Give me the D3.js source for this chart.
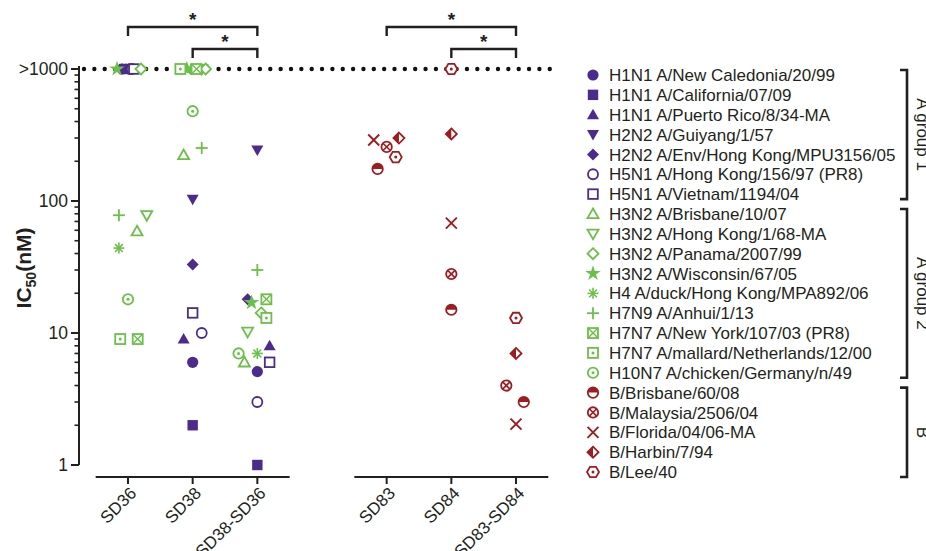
<!DOCTYPE html>
<html>
<head>
<meta charset="utf-8">
<script src="https://cdn.jsdelivr.net/npm/d3@7"></script>
<style>
  body { margin: 0; background: #fff; }
  svg { display: block; font-family: "Liberation Sans", Arial, Helvetica, sans-serif; }
</style>
</head>
<body>
<div id="chart"></div>
<script>
// ---------------- data ----------------
const categories = ["SD36", "SD38", "SD38-SD36", "gap", "SD83", "SD84", "SD83-SD84"];

const strainNames = [
  "H1N1 A/New Caledonia/20/99", "H1N1 A/California/07/09", "H1N1 A/Puerto Rico/8/34-MA",
  "H2N2 A/Guiyang/1/57", "H2N2 A/Env/Hong Kong/MPU3156/05", "H5N1 A/Hong Kong/156/97 (PR8)",
  "H5N1 A/Vietnam/1194/04", "H3N2 A/Brisbane/10/07", "H3N2 A/Hong Kong/1/68-MA",
  "H3N2 A/Panama/2007/99", "H3N2 A/Wisconsin/67/05", "H4 A/duck/Hong Kong/MPA892/06",
  "H7N9 A/Anhui/1/13", "H7N7 A/New York/107/03 (PR8)", "H7N7 A/mallard/Netherlands/12/00",
  "H10N7 A/chicken/Germany/n/49", "B/Brisbane/60/08", "B/Malaysia/2506/04",
  "B/Florida/04/06-MA", "B/Harbin/7/94", "B/Lee/40"
];
const strainGroups = [1, 1, 1, 1, 1, 1, 1, 2, 2, 2, 2, 2, 2, 2, 2, 2, 3, 3, 3, 3, 3];
const strainShapes = [
  "circle", "square", "triUp", "triDown", "diamond", "circleOpen", "squareOpen",
  "triUpOpen", "triDownOpen", "diamondOpen", "star", "asterisk", "plus", "squareX",
  "squareDot", "circleDot", "halfCircle", "circleX", "cross", "halfDiamond", "hexDot"
];
const groupLabels = ["A group 1", "A group 2", "B"];

// IC50 (nM), 1000 means >1000; group A strains (16)
const sd36 = [1000, 1000, 1000, 1000, 1000, 1000, 1000, 59, 78, 1000, 1000, 44, 78, 9, 9, 18];
const sd38 = [6, 2, 9, 103, 33, 10, 14.2, 223, 1000, 1000, 1000, 1000, 252, 1000, 1000, 479];
const sd3836 = [5.1, 1.0, 8, 243, 18, 3.0, 6, 6, 10.2, 14.2, 17, 7, 30, 18, 13, 7];
// group B strains (5)
const sd83 = [175, 257, 290, 300, 215];
const sd84 = [15, 28, 68, 322, 1000];
const sd8384 = [3.0, 4.0, 2.04, 7, 13];

// horizontal scatter offsets, in fractions of a category step
const sd36Jit = [-0.09, -0.06, -0.03, 0.0, 0.03, 0.06, 0.09, 0.14, 0.29, 0.2, -0.17, -0.14, -0.14, 0.15, -0.12, 0.0];
const sd38Jit = [0, 0, -0.14, 0, 0, 0.14, 0, -0.14, 0.14, 0.2, -0.09, -0.03, 0.14, 0.06, -0.19, 0];
const sd3836Jit = [0, 0, 0.19, 0, -0.15, 0, 0.19, -0.2, -0.15, 0.06, -0.09, 0, 0, 0.14, 0.14, -0.29];
const sd83Jit = [-0.14, 0, -0.2, 0.19, 0.14];
const sd84Jit = [0, 0, 0, 0, 0];
const sd8384Jit = [0.12, -0.15, 0, 0, 0];

const sigPairs = [["SD36", "SD38-SD36", 0], ["SD38", "SD38-SD36", 1], ["SD83", "SD83-SD84", 0], ["SD84", "SD83-SD84", 1]];
const yTickValues = [1, 10, 100, 1000];
const yTickLabels = ["1", "10", "100", ">1000"];

// ---------------- layout ----------------
const width = 926, height = 551;
const colors = { 1: "#4b2c8c", 2: "#6cbf4a", 3: "#9c1c22" };
const ink = "#231f20";

const points = [];
const pushSet = (cat, vals, jit, offset) =>
  vals.forEach((v, i) => points.push({ cat, value: v, jit: jit[i], strain: i + offset }));
pushSet("SD36", sd36, sd36Jit, 0);
pushSet("SD38", sd38, sd38Jit, 0);
pushSet("SD38-SD36", sd3836, sd3836Jit, 0);
pushSet("SD83", sd83, sd83Jit, 16);
pushSet("SD84", sd84, sd84Jit, 16);
pushSet("SD83-SD84", sd8384, sd8384Jit, 16);

const x = d3.scalePoint().domain(categories).range([128, 516]);
const y = d3.scaleLog().domain([1, 1000]).range([465, 69]);

const svg = d3.select("#chart").append("svg").attr("width", width).attr("height", height);

// marker drawing
function marker(g, shape, c) {
  const sw = 1.8;
  const open = (sel) => sel.attr("fill", "#fff").attr("stroke", c).attr("stroke-width", sw);
  const line = (x1, y1, x2, y2, w) => g.append("line").attr("x1", x1).attr("y1", y1).attr("x2", x2).attr("y2", y2)
    .attr("stroke", c).attr("stroke-width", w || sw);
  const dot = () => g.append("circle").attr("r", 1.5).attr("fill", c);
  switch (shape) {
    case "circle": g.append("circle").attr("r", 5.6).attr("fill", c); break;
    case "square": g.append("rect").attr("x", -5.2).attr("y", -5.2).attr("width", 10.4).attr("height", 10.4).attr("fill", c); break;
    case "triUp": g.append("path").attr("d", "M0,-6L6,4.5L-6,4.5Z").attr("fill", c); break;
    case "triDown": g.append("path").attr("d", "M0,6L6,-4.5L-6,-4.5Z").attr("fill", c); break;
    case "diamond": g.append("path").attr("d", "M0,-6L6,0L0,6L-6,0Z").attr("fill", c); break;
    case "circleOpen": open(g.append("circle").attr("r", 5)); break;
    case "squareOpen": open(g.append("rect").attr("x", -4.8).attr("y", -4.8).attr("width", 9.6).attr("height", 9.6)); break;
    case "triUpOpen": open(g.append("path").attr("d", "M0,-5.5L5.5,4.2L-5.5,4.2Z")); break;
    case "triDownOpen": open(g.append("path").attr("d", "M0,5.5L5.5,-4.2L-5.5,-4.2Z")); break;
    case "diamondOpen": open(g.append("path").attr("d", "M0,-5.5L5.5,0L0,5.5L-5.5,0Z")); break;
    case "star": g.append("path").attr("d", d3.symbol(d3.symbolStar, 75)()).attr("fill", c); break;
    case "asterisk":
      for (let k = 0; k < 4; k++) {
        const a = k * Math.PI / 4, r = 5.5;
        line(-r * Math.cos(a), -r * Math.sin(a), r * Math.cos(a), r * Math.sin(a), 1.6);
      }
      break;
    case "plus": line(-6, 0, 6, 0); line(0, -6, 0, 6); break;
    case "squareX":
      open(g.append("rect").attr("x", -5).attr("y", -5).attr("width", 10).attr("height", 10));
      line(-5, -5, 5, 5, 1.4); line(-5, 5, 5, -5, 1.4);
      break;
    case "squareDot":
      open(g.append("rect").attr("x", -5).attr("y", -5).attr("width", 10).attr("height", 10)); dot();
      break;
    case "circleDot": open(g.append("circle").attr("r", 5.2)); dot(); break;
    case "halfCircle":
      open(g.append("circle").attr("r", 5.2));
      g.append("path").attr("d", "M-5.2,0A5.2,5.2 0 0 1 5.2,0Z").attr("fill", c);
      break;
    case "circleX": {
      open(g.append("circle").attr("r", 5.2));
      const q = 3.4;
      line(-q, -q, q, q, 1.6); line(-q, q, q, -q, 1.6);
      break;
    }
    case "cross": line(-5.5, -5.5, 5.5, 5.5, 1.9); line(-5.5, 5.5, 5.5, -5.5, 1.9); break;
    case "halfDiamond":
      open(g.append("path").attr("d", "M0,-5.5L5.5,0L0,5.5L-5.5,0Z"));
      g.append("path").attr("d", "M0,-5.5L0,5.5L-5.5,0Z").attr("fill", c);
      break;
    case "hexDot": {
      const r = 6;
      const pts = d3.range(6).map((k) => [r * Math.cos(k * Math.PI / 3), r * Math.sin(k * Math.PI / 3)]);
      open(g.append("path").attr("d", "M" + pts.join("L") + "Z"));
      dot();
      break;
    }
  }
}

// ---------------- axes ----------------
// y axis line + ticks
const yAxisX = 79;
svg.append("line").attr("x1", yAxisX).attr("x2", yAxisX).attr("y1", y(1000) - 3).attr("y2", y(1))
  .attr("stroke", ink).attr("stroke-width", 2);
const minor = [];
for (let dec = 1; dec < 1000; dec *= 10) for (let m = 2; m <= 9; m++) minor.push(dec * m);
svg.append("g").selectAll("line").data(minor).join("line")
  .attr("x1", yAxisX - 4.5).attr("x2", yAxisX).attr("y1", (d) => y(d)).attr("y2", (d) => y(d))
  .attr("stroke", ink).attr("stroke-width", 1.6);
svg.append("g").selectAll("line").data(yTickValues).join("line")
  .attr("x1", yAxisX - 8).attr("x2", yAxisX).attr("y1", (d) => y(d)).attr("y2", (d) => y(d))
  .attr("stroke", ink).attr("stroke-width", 2);
svg.append("g").selectAll("text").data(yTickValues).join("text")
  .attr("x", yAxisX - 11).attr("y", (d) => y(d)).attr("dy", "0.36em")
  .attr("text-anchor", "end").attr("font-size", 17.5).attr("fill", ink)
  .text((d, i) => yTickLabels[i]);

// y label
const yl = svg.append("text").attr("transform", "translate(31,268) rotate(-90)")
  .attr("text-anchor", "middle").attr("font-size", 21).attr("font-weight", "bold").attr("fill", ink);
yl.append("tspan").text("IC");
yl.append("tspan").attr("font-size", 14).attr("dy", 5).text("50");
yl.append("tspan").attr("dy", -5).text("(nM)");

// x axis (broken between the two compound families)
const xAxisY = 477;
const step = x.step();
const xSegments = [["SD36", "SD38-SD36"], ["SD83", "SD83-SD84"]];
svg.append("g").selectAll("line").data(xSegments).join("line")
  .attr("x1", (d) => x(d[0]) - step / 2).attr("x2", (d) => x(d[1]) + step / 2)
  .attr("y1", xAxisY).attr("y2", xAxisY).attr("stroke", ink).attr("stroke-width", 2);
const xTicks = categories.filter((c) => c !== "gap");
svg.append("g").selectAll("line").data(xTicks).join("line")
  .attr("x1", (d) => x(d)).attr("x2", (d) => x(d)).attr("y1", xAxisY).attr("y2", xAxisY + 7)
  .attr("stroke", ink).attr("stroke-width", 2);
svg.append("g").selectAll("text").data(xTicks).join("text")
  .attr("transform", (d) => `translate(${x(d) + 1},${xAxisY + 9}) rotate(-45)`)
  .attr("text-anchor", "end").attr("dy", "0.7em").attr("font-size", 17).attr("fill", ink)
  .text((d) => d);

// >1000 dotted cut-off line
svg.append("line").attr("x1", 84).attr("x2", 552).attr("y1", y(1000)).attr("y2", y(1000))
  .attr("stroke", "#111").attr("stroke-width", 4.4).attr("stroke-linecap", "round")
  .attr("stroke-dasharray", "0,10.35");

// significance brackets
const sigY = [27, 49];
sigPairs.forEach(([a, b, lvl]) => {
  const yy = sigY[lvl], x1 = x(a), x2 = x(b);
  svg.append("path").attr("d", `M${x1},${yy + 9}V${yy}H${x2}V${yy + 9}`)
    .attr("fill", "none").attr("stroke", ink).attr("stroke-width", 2.4);
  svg.append("text").attr("x", (x1 + x2) / 2).attr("y", yy - 1).attr("text-anchor", "middle")
    .attr("font-size", 19).attr("font-weight", "bold").attr("fill", ink).text("*");
});

// ---------------- points ----------------
svg.append("g").selectAll("g").data(points).join("g")
  .attr("transform", (d) => `translate(${x(d.cat) + d.jit * step},${y(d.value)})`)
  .each(function (d) { marker(d3.select(this), strainShapes[d.strain], colors[strainGroups[d.strain]]); });

// ---------------- legend ----------------
const rowY = d3.scaleLinear().domain([0, strainNames.length - 1]).range([75, 472]);
const legend = svg.append("g");
strainNames.forEach((name, i) => {
  const g = legend.append("g").attr("transform", `translate(593,${rowY(i)})`);
  marker(g, strainShapes[i], colors[strainGroups[i]]);
  g.append("text").attr("x", 16).attr("dy", "0.36em").attr("font-size", 17).attr("fill", ink).text(name);
});

// group brackets on the right
[1, 2, 3].forEach((grp, k) => {
  const idx = strainGroups.map((g, i) => (g === grp ? i : -1)).filter((i) => i >= 0);
  const y0 = rowY(idx[0]) - 5, y1 = rowY(idx[idx.length - 1]) + 5;
  svg.append("path").attr("d", `M900,${y0}H907V${y1}H900`)
    .attr("fill", "none").attr("stroke", ink).attr("stroke-width", 2.6);
  svg.append("text").attr("transform", `translate(917,${(y0 + y1) / 2}) rotate(90)`)
    .attr("text-anchor", "middle").attr("font-size", 17).attr("fill", ink).text(groupLabels[k]);
});
</script>
</body>
</html>
